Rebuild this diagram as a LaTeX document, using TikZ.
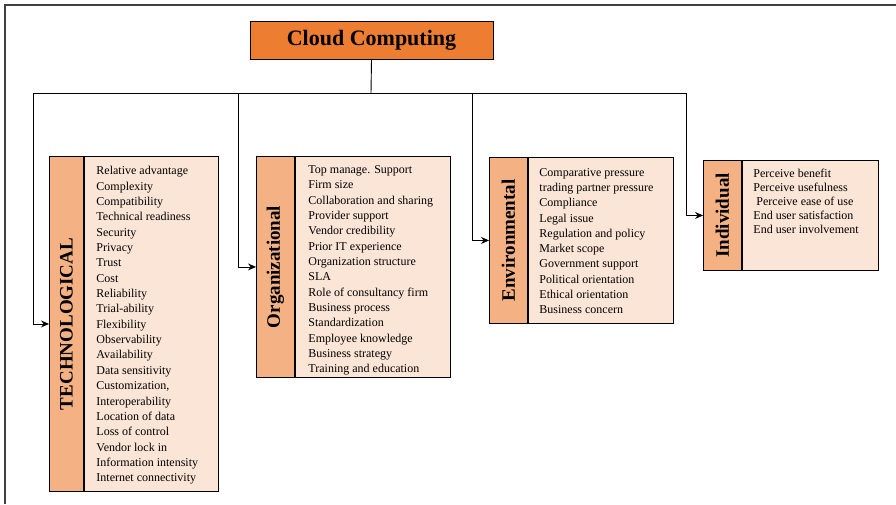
\documentclass[tikz,border=0pt]{standalone}
\usepackage{fontspec}
\setmainfont{Liberation Serif}
\usetikzlibrary{arrows.meta, positioning}
\definecolor{cloudorange}{RGB}{237,125,49}
\definecolor{colorange}{RGB}{244,177,131}
\definecolor{listpeach}{RGB}{251,229,214}

\begin{document}
\begin{tikzpicture}[x=1pt, y=-1pt, line width=0.9pt, >={Stealth[length=8pt,width=7pt]},
	topbox/.style={draw, fill=cloudorange, minimum width=243pt, minimum height=38pt, font=\fontsize{22}{26}\selectfont\bfseries},
	colbox/.style={draw, fill=colorange, anchor=north west, inner sep=0pt, font=\fontsize{19}{22}\selectfont\bfseries},
	listbox/.style={draw, fill=listpeach, anchor=north west, inner sep=0pt},
	items/.style={anchor=north west, align=left, inner sep=0pt, font=\fontsize{12}{15.35}\selectfont}]
			\useasboundingbox (0, 0) rectangle (896, 504);
			
			% frame
			\draw[line width=1.4pt, color=black!75] (5, 504) -- (5, 5) -- (896, 5);
			
			\node[topbox] (cloud) at (371.5, 40) {Cloud Computing};
			
			\node[colbox, minimum width=34pt, minimum height=335pt] (techcol) at (49, 156) {\rotatebox{90}{TECHNOLOGICAL}};
			\node[listbox, minimum width=134pt, minimum height=335pt] (techlist) at (techcol.north east) {};
			\node[items] (techitems) at (96, 166) {Relative advantage\\ Complexity\\ Compatibility\\ Technical readiness\\ Security\\ Privacy\\ Trust\\ Cost\\ Reliability\\ Trial-ability\\ Flexibility\\ Observability\\ Availability\\ Data sensitivity\\ Customization,\\ Interoperability\\ Location of data\\ Loss of control\\ Vendor lock in\\ Information intensity\\ Internet connectivity};
			
			\node[colbox, minimum width=38pt, minimum height=221pt] (orgcol) at (256, 156) {\rotatebox{90}{Organizational}};
			\node[listbox, minimum width=155pt, minimum height=221pt] (orglist) at (orgcol.north east) {};
			\node[items] (orgitems) at (308, 165) {Top manage. Support\\ Firm size\\ Collaboration and sharing\\ Provider support\\ Vendor credibility\\ Prior IT experience\\ Organization structure\\ SLA\\ Role of consultancy firm\\ Business process\\ Standardization\\ Employee knowledge\\ Business strategy\\ Training and education};
			
			\node[colbox, minimum width=38pt, minimum height=166pt] (envcol) at (489, 157) {\rotatebox{90}{Environmental}};
			\node[listbox, minimum width=145pt, minimum height=166pt] (envlist) at (envcol.north east) {};
			\node[items, font=\fontsize{12}{15.25}\selectfont] (envitems) at (539, 168) {Comparative pressure\\ trading partner pressure\\ Compliance\\ Legal issue\\ Regulation and policy\\ Market scope\\ Government support\\ Political orientation\\ Ethical orientation\\ Business concern};
			
			\node[colbox, minimum width=38pt, minimum height=110pt] (indcol) at (703, 160) {\rotatebox{90}{Individual}};
			\node[listbox, minimum width=136pt, minimum height=110pt] (indlist) at (indcol.north east) {};
			\node[items, font=\fontsize{12}{13.9}\selectfont] (inditems) at (753, 169) {Perceive benefit\\ Perceive usefulness\\ \hspace{3pt}Perceive ease of use\\ End user satisfaction\\ End user involvement};
			
			\coordinate (hub) at (371, 93);
			\coordinate (techdrop) at (33, 93);
			\coordinate (orgdrop) at (238, 93);
			\coordinate (envdrop) at (472, 93);
			\coordinate (inddrop) at (686, 93);
			
			\draw (cloud.south) -- (hub);
			\draw (techdrop) -- (inddrop);
			\draw[->] (techdrop) |- (techcol.west);
			\draw[->] (orgdrop) |- (orgcol.west);
			\draw[->] (envdrop) |- (envcol.west);
			\draw[->] (inddrop) |- (indcol.west);
			
		\end{tikzpicture}
\end{document}
